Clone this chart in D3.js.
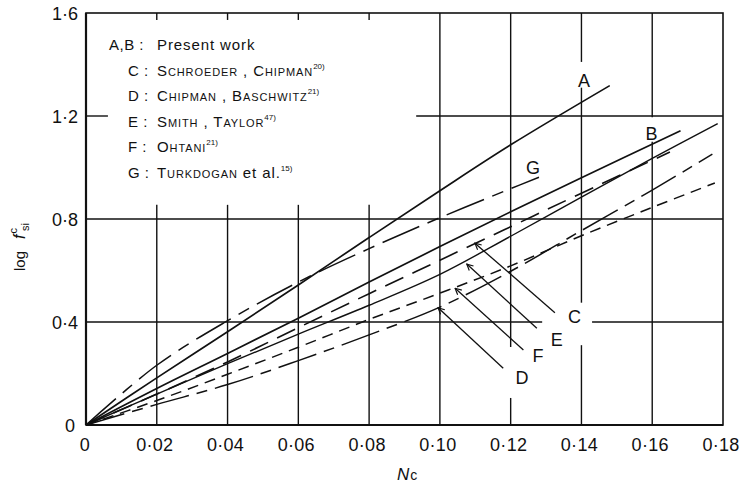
<!DOCTYPE html>
<html><head><meta charset="utf-8">
<script src="https://cdn.jsdelivr.net/npm/d3@7"></script>
<style>
body{margin:0;background:#fff}
svg{display:block}
text{font-family:"Liberation Sans",Arial,sans-serif;fill:#111}
</style>
</head><body>
<svg id="chart" width="754" height="484"></svg>
<script>
// ---------- data ----------
const xTicks = [0, 0.02, 0.04, 0.06, 0.08, 0.10, 0.12, 0.14, 0.16, 0.18];
const yTicks = [0, 0.4, 0.8, 1.2, 1.6];

const xA = [0, 0.02, 0.04, 0.06, 0.08, 0.10, 0.12, 0.148];
const yA = [0, 0.183, 0.362, 0.544, 0.728, 0.91, 1.088, 1.318];

const xB = [0, 0.02, 0.04, 0.06, 0.08, 0.10, 0.12, 0.14, 0.168];
const yB = [0, 0.142, 0.278, 0.415, 0.555, 0.693, 0.828, 0.96, 1.143];

const xC = [0, 0.02, 0.04, 0.06, 0.08, 0.10, 0.12, 0.14, 0.165];
const yC = [0, 0.12, 0.245, 0.378, 0.51, 0.64, 0.77, 0.90, 1.06];

const xD = [0, 0.02, 0.04, 0.06, 0.08, 0.10, 0.12, 0.14, 0.16, 0.177];
const yD = [0, 0.08, 0.157, 0.25, 0.35, 0.458, 0.597, 0.755, 0.912, 1.052];

const xE = [0, 0.02, 0.04, 0.06, 0.08, 0.10, 0.12, 0.14, 0.16, 0.1785];
const yE = [0, 0.12, 0.238, 0.353, 0.465, 0.585, 0.733, 0.885, 1.035, 1.17];

const xF = [0, 0.02, 0.04, 0.06, 0.08, 0.10, 0.12, 0.14, 0.16, 0.1777];
const yF = [0, 0.095, 0.197, 0.302, 0.41, 0.512, 0.618, 0.735, 0.845, 0.94];

const xG = [0, 0.02, 0.04, 0.06, 0.08, 0.10, 0.12, 0.128];
const yG = [0, 0.232, 0.405, 0.555, 0.685, 0.805, 0.918, 0.962];

const legendKeys  = ["A,B", "C", "D", "E", "F", "G"];
const legendNames = ["Present work", "Schroeder , Chipman", "Chipman , Baschwitz", "Smith , Taylor", "Ohtani", "Turkdogan"];
const legendRefs  = ["", "20)", "21)", "47)", "21)", "15)"];

// curve end labels (data coords)
const endLabels = ["A", "B", "G"];
const endLabelX = [0.1407, 0.1598, 0.1263];
const endLabelY = [1.340, 1.134, 1.002];

// leader-line annotations (data coords)
const leadLabels = ["C", "E", "F", "D"];
const leadTipX   = [0.1099, 0.1076, 0.1043, 0.0995];
const leadTipY   = [0.706, 0.625, 0.531, 0.455];
const leadTailX  = [0.1325, 0.1274, 0.1236, 0.1179];
const leadTailY  = [0.436, 0.376, 0.291, 0.220];
const leadTextX  = [0.1362, 0.1313, 0.1262, 0.1214];
const leadTextY  = [0.425, 0.335, 0.270, 0.188];

// ---------- chart ----------
const svg = d3.select("#chart");
svg.append("rect").attr("width",754).attr("height",484).attr("fill","#fff");

const x = d3.scaleLinear().domain([0, 0.18]).range([86, 723]);
const y = d3.scaleLinear().domain([0, 1.6]).range([425, 13]);

const fmtX = v => v === 0 ? "0" : d3.format(".2f")(v).replace(".", "\u00B7");
const fmtY = v => v === 0 ? "0" : d3.format(".1f")(v).replace(".", "\u00B7");

const grid = svg.append("g").attr("stroke","#111").attr("stroke-width",1.4).attr("fill","none");

// vertical grid lines, interrupted where the legend / labels sit
const vGaps = {
  "0.02": [[0.855, 1.573]], "0.04": [[0.855, 1.573]], "0.06": [[0.855, 1.573]], "0.08": [[0.855, 1.573]],
  "0.12": [[0.105, 0.303]],
  "0.14": [[0.31, 0.475], [1.31, 1.41]],
  "0.16": [[1.10, 1.195]]
};
function segments(lo, hi, gaps){
  let segs = [], cur = lo;
  (gaps||[]).slice().sort((a,b)=>a[0]-b[0]).forEach(g=>{ segs.push([cur, g[0]]); cur = g[1]; });
  segs.push([cur, hi]);
  return segs;
}
xTicks.filter(v => v > 0 && v < 0.18).forEach(v => {
  segments(0, 1.6, vGaps[v.toFixed(2)]).forEach(s => {
    grid.append("line").attr("x1", x(v)).attr("x2", x(v)).attr("y1", y(s[0])).attr("y2", y(s[1]));
  });
});
const hGaps = { "1.2": [[0.0062, 0.0933]], "0.4": [[0.1289, 0.1430]] };
yTicks.filter(v => v > 0 && v < 1.6).forEach(v => {
  segments(0, 0.18, hGaps[v.toFixed(1)]).forEach(s => {
    grid.append("line").attr("y1", y(v)).attr("y2", y(v)).attr("x1", x(s[0])).attr("x2", x(s[1]));
  });
});

// frame
svg.append("rect").attr("x", x(0)).attr("y", y(1.6)).attr("width", x(0.18)-x(0)).attr("height", y(0)-y(1.6))
  .attr("fill","none").attr("stroke","#111").attr("stroke-width",1.6);
svg.append("line").attr("x1",x(0)).attr("x2",x(0.18)).attr("y1",y(0)).attr("y2",y(0)).attr("stroke","#111").attr("stroke-width",2.2);
svg.append("line").attr("x1",x(0)).attr("x2",x(0)).attr("y1",y(0)).attr("y2",y(1.6)).attr("stroke","#111").attr("stroke-width",2.2);

// tick labels
svg.append("g").selectAll("text").data(xTicks).join("text")
  .attr("x", d => x(d) - (d===0?1:2)).attr("y", 451)
  .attr("text-anchor","middle").attr("font-size",18).attr("letter-spacing",0.3)
  .text(fmtX);
svg.append("g").selectAll("text").data(yTicks).join("text")
  .attr("x", d => d===0 ? 75 : 78).attr("y", d => y(d) + 7)
  .attr("text-anchor","end").attr("font-size",18)
  .text(fmtY);

// axis titles
const xt = svg.append("text").attr("x", 397).attr("y", 480).attr("font-size",17);
xt.append("tspan").attr("font-style","italic").text("N");
xt.append("tspan").attr("font-size",14).attr("dx",1).text("c");

const yt = svg.append("text").attr("transform","translate(25,271) rotate(-90)").attr("font-size",15);
yt.append("tspan").text("log");
yt.append("tspan").attr("dx",12).attr("font-style","italic").attr("font-size",16).text("f");
yt.append("tspan").attr("dy",-8).attr("dx",1).attr("font-size",11).text("c");
yt.append("tspan").attr("dy",12).attr("dx",-3).attr("font-size",11).text("si");

// curves
const series = [
  {xs:xA, ys:yA, dash:null, w:1.7},
  {xs:xB, ys:yB, dash:null, w:1.7},
  {xs:xC, ys:yC, dash:"20,10", w:1.6},
  {xs:xD, ys:yD, dash:"40,8,11,8", w:1.5},
  {xs:xE, ys:yE, dash:null, w:1.4},
  {xs:xF, ys:yF, dash:"11,7", w:1.5},
  {xs:xG, ys:yG, dash:"40,9,12,9", w:1.5}
];
const line = d3.line().x(d => x(d[0])).y(d => y(d[1])).curve(d3.curveCatmullRom.alpha(0.5));
svg.append("g").selectAll("path").data(series).join("path")
  .attr("d", s => line(s.xs.map((v,i)=>[v, s.ys[i]])))
  .attr("fill","none").attr("stroke","#111")
  .attr("stroke-width", s => s.w)
  .attr("stroke-dasharray", s => s.dash);

// end labels
svg.append("g").selectAll("text").data(endLabels).join("text")
  .attr("x", (d,i) => x(endLabelX[i])).attr("y", (d,i) => y(endLabelY[i]) + 7)
  .attr("text-anchor","middle").attr("font-size",18).text(d => d);

// leader lines
svg.append("defs").append("marker").attr("id","arr").attr("viewBox","0 0 10 10")
  .attr("refX",9).attr("refY",5).attr("markerWidth",6).attr("markerHeight",6).attr("orient","auto")
  .append("path").attr("d","M1,1 L9,5 L1,9").attr("fill","none").attr("stroke","#111").attr("stroke-width",1.5);
svg.append("g").selectAll("line").data(leadLabels).join("line")
  .attr("x1",(d,i)=>x(leadTailX[i])).attr("y1",(d,i)=>y(leadTailY[i]))
  .attr("x2",(d,i)=>x(leadTipX[i])).attr("y2",(d,i)=>y(leadTipY[i]))
  .attr("stroke","#111").attr("stroke-width",1.3).attr("marker-end","url(#arr)");
svg.append("g").selectAll("text").data(leadLabels).join("text")
  .attr("x",(d,i)=>x(leadTextX[i])).attr("y",(d,i)=>y(leadTextY[i]) + 7)
  .attr("font-size",18).text(d=>d);

// legend
const lg = svg.append("g").attr("font-size",15);
legendKeys.forEach((k,i) => {
  const yy = 50 + i*25.6;
  lg.append("text").attr("x", i===0 ? 109 : 128).attr("y", yy).attr("letter-spacing",0.5)
    .text(k + " :");
  const t = lg.append("text").attr("x", 157).attr("y", yy).attr("letter-spacing",0.9);
  if (i === 0) {
    t.text(legendNames[i]);
  } else {
    t.append("tspan").style("font-variant","small-caps").text(legendNames[i]);
    if (i === 5) t.append("tspan").attr("dx",5).text("et al.");
    t.append("tspan").attr("dy",-7).attr("font-size",8).attr("letter-spacing",0).text(legendRefs[i]);
  }
});
</script>
</body></html>
